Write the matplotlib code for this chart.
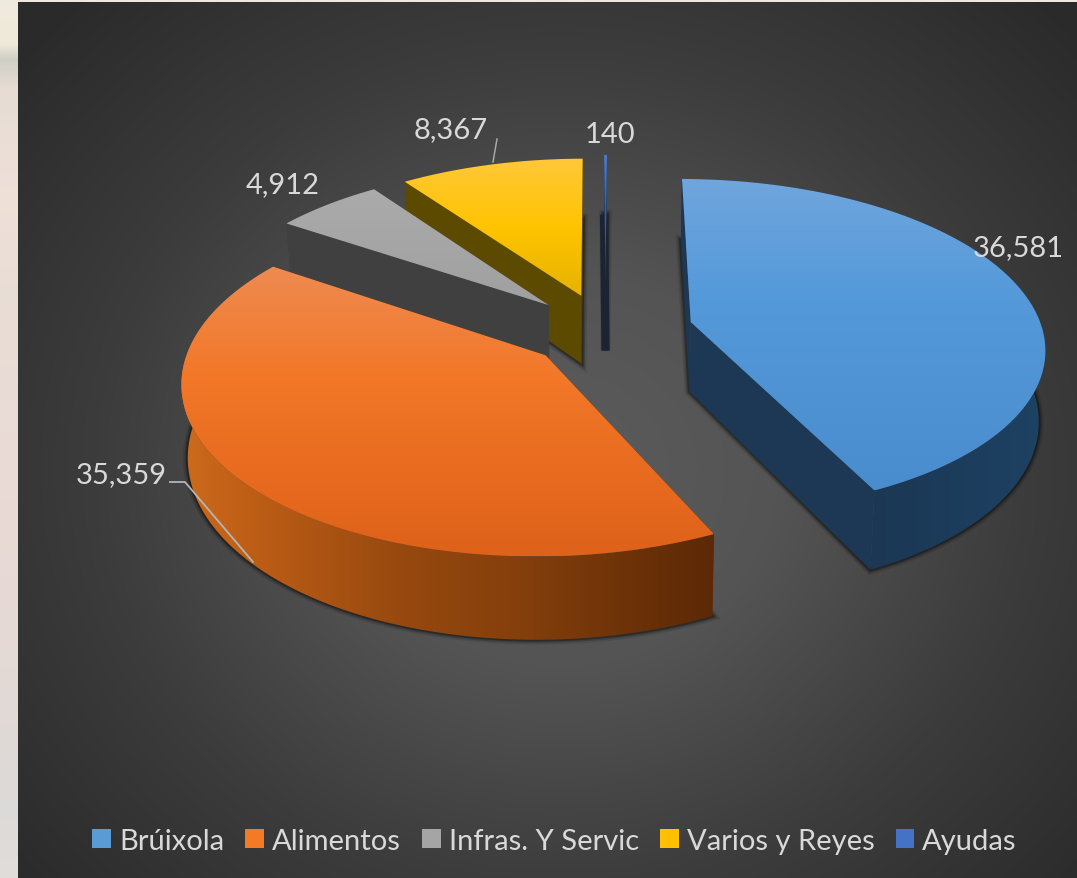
import numpy as np
import matplotlib
matplotlib.use("Agg")
import matplotlib.pyplot as plt
from matplotlib.patches import Patch, PathPatch
from matplotlib.path import Path
from matplotlib.colors import to_rgb

categories = ["Brúixola", "Alimentos", "Infras. Y Servic", "Varios y Reyes", "Ayudas"]
values = [36581, 35359, 4912, 8367, 140]

explode = [0.25, 0.22, 0.23, 0.23, 0.30]
radius = [1.0, 1.0, 1.0, 1.0, 0.95]
legend_colors = ["#5B9BD5", "#F47B25", "#A5A5A5", "#FFC000", "#4472C4"]
top_stops = [
    [(180, "#70A6DD"), (300, "#5499DA"), (490, "#4A8DCF")],
    [(270, "#EE8A50"), (380, "#F37727"), (550, "#DF621A")],
    [(188, "#ABABAB"), (305, "#A0A0A0")],
    [(156, "#FFC83C"), (230, "#FFC400"), (296, "#E6B300")],
    [(155, "#4F7CC8"), (280, "#27457A")],
]
rim_stops = [
    [(680, "#1C3854"), (870, "#1B3754"), (1045, "#1E4263")],
    [(185, "#CC6A1C"), (250, "#BE5E16"), (400, "#97490F"), (520, "#843F0C"), (711, "#5C2906")],
    [(280, "#404040"), (550, "#404040")],
    [(400, "#5C4A00"), (590, "#5C4A00")],
    [(600, "#1B2A44"), (615, "#1B2A44")],
]
wall_colors = ["#1C3854", "#5C2906", "#404040", "#5C4A00", "#1C2433"]
core_lw = [0, 0, 0, 0, 6]
draw_order = [4, 3, 2, 0, 1]

START = np.radians(0.3)
CX, CY, A, D, P = 605.5, 332.0, 352.0, 165.5, 0.14
DEPTH, K = 70.0, 0.985

W, H = 1077, 879
fig = plt.figure(figsize=(W / 100, H / 100), dpi=100)
ax = fig.add_axes([0, 0, 1, 1])
ax.set_xlim(0, W)
ax.set_ylim(H, 0)
ax.axis("off")
plt.rcParams["font.family"] = ["Lato", "DejaVu Sans"]


def interp_colors(pos, stops):
    xs = [s[0] for s in stops]
    cols = np.array([to_rgb(s[1]) for s in stops])
    return np.stack([np.interp(pos, xs, cols[:, i]) for i in range(3)], axis=-1)


def project(u, v):
    w = 1 + P * v
    return CX + A * u / w, CY - D * v / w, w


def lower(x, y, w):
    return CX + (x - CX) * K, y + DEPTH / w


def grad_fill(verts, stops, axis, zorder):
    verts = np.asarray(verts)
    path = Path(np.vstack([verts, verts[0]]), closed=True)
    x0, y0 = verts.min(axis=0)
    x1, y1 = verts.max(axis=0)
    if axis == "y":
        pos = np.linspace(y0, y1, 256)
        img = interp_colors(pos, stops)[:, None, :]
    else:
        pos = np.linspace(x0, x1, 256)
        img = interp_colors(pos, stops)[None, :, :]
    im = ax.imshow(img, extent=[x0, x1, y1, y0], aspect="auto", zorder=zorder, interpolation="bilinear")
    im.set_clip_path(PathPatch(path, transform=ax.transData))


# background
yy, xx = np.mgrid[3:H, 18:W]
rad = np.sqrt(((xx - 560) / 620.0) ** 2 + ((yy - 470) / 560.0) ** 2)
grey = np.interp(rad, [0, 0.35, 0.75, 1.15], [0.36, 0.33, 0.235, 0.165])
ax.imshow(np.dstack([grey] * 3), extent=[18, W, H, 3], aspect="auto", zorder=0)
strip = [(0, "#F0EBDF"), (45, "#EFE9D8"), (60, "#CFCFC6"), (90, "#E6DCD4"), (200, "#EFE0D8"),
         (300, "#E8DDD5"), (500, "#EADAD5"), (650, "#E4D9D5"), (800, "#DCDAD8"), (879, "#E0DDDA")]
ax.imshow(interp_colors(np.arange(H), strip)[:, None, :], extent=[0, 18, H, 0], aspect="auto", zorder=0)
ax.imshow(np.array([[to_rgb("#EFE8DE")]]), extent=[18, W, 3, 0], aspect="auto", zorder=0)
ax.set_xlim(0, W)
ax.set_ylim(H, 0)

# wedges
total = sum(values)
edges = START + np.concatenate([[0], np.cumsum(values)]) / total * 2 * np.pi
z = 2
for i in draw_order:
    a0, a1 = edges[i], edges[i + 1]
    bis = (a0 + a1) / 2
    ou, ov = explode[i] * np.sin(bis), explode[i] * np.cos(bis)
    th = np.linspace(a0, a1, max(int(np.degrees(a1 - a0)), 2) + 1)
    r = radius[i]
    x, y, w = project(ou + r * np.sin(th), ov + r * np.cos(th))
    ax_, ay_, aw_ = project(ou, ov)
    xb, yb = lower(x, y, w)
    bx_, by_ = lower(ax_, ay_, aw_)
    top = np.column_stack([np.r_[ax_, x], np.r_[ay_, y]])
    bottom = np.column_stack([np.r_[bx_, xb], np.r_[by_, yb]])
    # soft shadow along the lower outline
    for lw, al in [(7, 0.10), (4.5, 0.18), (2.5, 0.30)]:
        ax.add_patch(PathPatch(Path(np.vstack([bottom, bottom[0]]), closed=True), fc="none",
                               ec=(0, 0, 0, al), lw=lw, zorder=z))
    z += 1
    if core_lw[i]:
        ax.plot([bx_, xb[0]], [by_, yb[0]], color=wall_colors[i], lw=core_lw[i],
                solid_capstyle="butt", zorder=z)
    for xe, ye, xbe, ybe in [(x[0], y[0], xb[0], yb[0]), (x[-1], y[-1], xb[-1], yb[-1])]:
        ax.fill([ax_, xe, xbe, bx_], [ay_, ye, ybe, by_], facecolor=wall_colors[i],
                edgecolor="none", lw=0, zorder=z)
    z += 1
    rim = np.vstack([np.column_stack([x, y]), np.column_stack([xb, yb])[::-1]])
    grad_fill(rim, rim_stops[i], "x", z)
    z += 1
    grad_fill(top, top_stops[i], "y", z)
    z += 1

# data labels
label_pos = [(1018, 248), (121, 475), (283, 185), (451, 130), (610, 135)]
for v, (lx, ly) in zip(values, label_pos):
    ax.text(lx, ly, f"{v:,}", ha="center", va="center", color="#D9D9D9", fontsize=21, zorder=60)

# leader lines
ax.plot([170, 185, 253], [483, 483, 563], color="#B5B5B5", lw=1.3, zorder=61)
ax.plot([493, 497], [163, 140], color="#A8A8A8", lw=1.1, zorder=61)

handles = [Patch(facecolor=c, edgecolor="none", label=n) for c, n in zip(legend_colors, categories)]
leg = ax.legend(handles=handles, ncol=5, loc="center", bbox_to_anchor=(554.5 / W, 1 - 842 / H),
                frameon=False, fontsize=21, labelcolor="#D9D9D9", handlelength=0.64, handleheight=0.64,
                handletextpad=0.28, columnspacing=0.72, borderpad=0, borderaxespad=0)
leg.set_zorder(70)

fig.savefig("out.png", dpi=100)
